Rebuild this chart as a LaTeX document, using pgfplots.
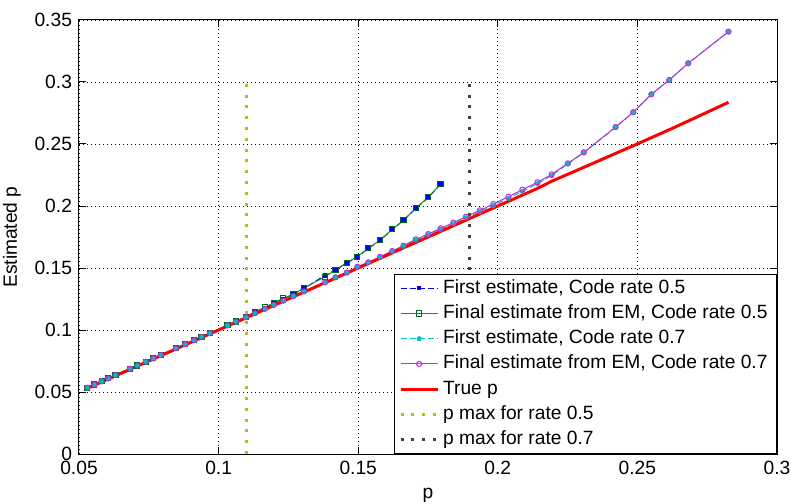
\documentclass[border=0pt]{standalone}
\usepackage{fontspec}
\setmainfont{Liberation Sans}
\usepackage{pgfplots}
\pgfplotsset{compat=1.18}
\definecolor{mblue}{rgb}{0,0,1}
\definecolor{mgreen}{rgb}{0.1,0.55,0.15}
\definecolor{mgreendark}{rgb}{0,0.4,0.15}
\definecolor{mcyan}{rgb}{0,0.75,0.75}
\definecolor{mmag}{rgb}{0.72,0.2,0.82}
\definecolor{myel}{rgb}{0.75,0.75,0}
\definecolor{mgray}{rgb}{0.25,0.25,0.25}
\begin{document}
\begin{tikzpicture}
\begin{axis}[
  scale only axis, width=349pt, height=217pt,
  xmin=0.05, xmax=0.3, ymin=0, ymax=0.35,
  xtick={0.05,0.1,0.15,0.2,0.25,0.3},
  xticklabels={0.05,0.1,0.15,0.2,0.25,0.3},
  ytick={0,0.05,0.1,0.15,0.2,0.25,0.3,0.35},
  yticklabels={0,0.05,0.1,0.15,0.2,0.25,0.3,0.35},
  scaled ticks=false,
  tick align=inside, tick pos=both, major tick length=3.5pt,
  grid=major,
  major grid style={black, line width=0.4pt, dash pattern=on 0.5pt off 1.5pt},
  axis line style={black, line width=0.5pt},
  tick style={black, line width=0.5pt},
  tick label style={font=\fontsize{9.6}{11}\selectfont},
  label style={font=\fontsize{9.6}{11}\selectfont},
  xlabel={p}, ylabel={Estimated p},
  legend style={at={(1,0)}, anchor=south east, draw=black, line width=0.5pt, fill=white,
    font=\fontsize{9.6}{11}\selectfont, inner xsep=2.5pt, inner ysep=1pt, row sep=0.6pt,
    nodes={inner xsep=2pt, inner ysep=1.5pt, text height=7pt, text depth=2pt}},
  legend cell align=left,
  legend image code/.code={\draw[mark repeat=2,mark phase=2,#1] plot coordinates {(0pt,0pt) (9.25pt,0pt) (18.5pt,0pt)};},
]
% First estimate, rate 0.5
\addplot[color=mblue, line width=0.5pt, dash pattern=on 3pt off 1.5pt, mark=square*, mark size=0.8pt, mark options={solid, fill=mblue}] coordinates {
(0.0530,0.0537) (0.0555,0.0561) (0.0581,0.0587) (0.0605,0.0612) (0.0631,0.0637) (0.0683,0.0689) (0.0709,0.0715) (0.0739,0.0745) (0.0766,0.0772) (0.0793,0.0799) (0.0847,0.0853) (0.0880,0.0886) (0.0912,0.0918) (0.0939,0.0945) (0.0969,0.0975) (0.1032,0.1039) (0.1062,0.1069) (0.1098,0.1107) (0.1130,0.1146) (0.1166,0.1180) (0.1198,0.1217) (0.1232,0.1252) (0.1268,0.1288) (0.1306,0.1336) (0.1381,0.1440) (0.1419,0.1484) (0.1459,0.1540) (0.1497,0.1590) (0.1536,0.1657) (0.1578,0.1722) (0.1622,0.1810) (0.1662,0.1884) (0.1706,0.1980) (0.1751,0.2069) (0.1795,0.2176)};
\addlegendentry{First estimate, Code rate 0.5}
% Final estimate, rate 0.5
\addplot[color=mgreen, line width=0.5pt, mark=square, mark size=1.3pt, mark options={solid, draw=mgreendark}] coordinates {
(0.0530,0.0535) (0.0555,0.0560) (0.0581,0.0586) (0.0605,0.0610) (0.0631,0.0636) (0.0683,0.0688) (0.0709,0.0714) (0.0739,0.0744) (0.0766,0.0771) (0.0793,0.0798) (0.0847,0.0852) (0.0880,0.0885) (0.0912,0.0917) (0.0939,0.0944) (0.0969,0.0974) (0.1032,0.1038) (0.1062,0.1068) (0.1098,0.1106) (0.1130,0.1148) (0.1166,0.1183) (0.1198,0.1220) (0.1232,0.1255) (0.1268,0.1290) (0.1306,0.1338) (0.1381,0.1430) (0.1419,0.1484) (0.1459,0.1543) (0.1497,0.1591) (0.1536,0.1659) (0.1578,0.1723) (0.1622,0.1812) (0.1662,0.1885) (0.1706,0.1981) (0.1751,0.2070) (0.1795,0.2177)};
\addlegendentry{Final estimate from EM, Code rate 0.5}
% First estimate, rate 0.7
\addplot[color=mcyan, line width=0.5pt, dash pattern=on 3pt off 1.5pt, mark=*, mark size=1pt, mark options={solid, fill=mcyan}] coordinates {
(0.0530,0.0534) (0.0555,0.0559) (0.0581,0.0585) (0.0605,0.0609) (0.0631,0.0635) (0.0683,0.0687) (0.0709,0.0713) (0.0739,0.0743) (0.0766,0.0770) (0.0793,0.0797) (0.0847,0.0851) (0.0880,0.0884) (0.0912,0.0916) (0.0939,0.0943) (0.0969,0.0973) (0.1032,0.1036) (0.1062,0.1066) (0.1098,0.1102) (0.1130,0.1134) (0.1166,0.1170) (0.1198,0.1202) (0.1232,0.1236) (0.1268,0.1272) (0.1306,0.1310) (0.1381,0.1384) (0.1419,0.1423) (0.1459,0.1461) (0.1497,0.1507) (0.1536,0.1543) (0.1578,0.1587) (0.1622,0.1633) (0.1662,0.1675) (0.1706,0.1725) (0.1751,0.1768) (0.1795,0.1813) (0.1841,0.1857) (0.1886,0.1905) (0.1936,0.1955) (0.1984,0.2005) (0.2038,0.2062) (0.2088,0.2118) (0.2142,0.2180) (0.2193,0.2245) (0.2251,0.2340) (0.2308,0.2430) (0.2422,0.2635) (0.2485,0.2755) (0.2550,0.2900) (0.2614,0.3015) (0.2682,0.3150) (0.2826,0.3405)};
\addlegendentry{First estimate, Code rate 0.7}
% Final estimate, rate 0.7
\addplot[color=mmag, line width=0.5pt, mark=o, mark size=1.3pt, mark options={solid}] coordinates {
(0.0530,0.0535) (0.0555,0.0560) (0.0581,0.0586) (0.0605,0.0610) (0.0631,0.0636) (0.0683,0.0688) (0.0709,0.0714) (0.0739,0.0744) (0.0766,0.0771) (0.0793,0.0798) (0.0847,0.0852) (0.0880,0.0885) (0.0912,0.0917) (0.0939,0.0944) (0.0969,0.0974) (0.1032,0.1037) (0.1062,0.1067) (0.1098,0.1103) (0.1130,0.1135) (0.1166,0.1171) (0.1198,0.1203) (0.1232,0.1237) (0.1268,0.1273) (0.1306,0.1311) (0.1381,0.1385) (0.1419,0.1425) (0.1459,0.1463) (0.1497,0.1510) (0.1536,0.1546) (0.1578,0.1590) (0.1622,0.1637) (0.1662,0.1680) (0.1706,0.1731) (0.1751,0.1774) (0.1795,0.1820) (0.1841,0.1865) (0.1886,0.1914) (0.1936,0.1965) (0.1984,0.2016) (0.2038,0.2075) (0.2088,0.2132) (0.2142,0.2191) (0.2193,0.2255) (0.2251,0.2344) (0.2308,0.2433) (0.2422,0.2637) (0.2485,0.2756) (0.2550,0.2901) (0.2614,0.3016) (0.2682,0.3151) (0.2826,0.3406)};
\addlegendentry{Final estimate from EM, Code rate 0.7}
% True p
\addplot[color=red, line width=1.5pt, mark=none] coordinates {
(0.0530,0.0530) (0.0555,0.0555) (0.0581,0.0581) (0.0605,0.0605) (0.0631,0.0631) (0.0683,0.0683) (0.0709,0.0709) (0.0739,0.0739) (0.0766,0.0766) (0.0793,0.0793) (0.0847,0.0847) (0.0880,0.0880) (0.0912,0.0912) (0.0939,0.0939) (0.0969,0.0969) (0.1032,0.1032) (0.1062,0.1062) (0.1098,0.1098) (0.1130,0.1130) (0.1166,0.1166) (0.1198,0.1198) (0.1232,0.1232) (0.1268,0.1268) (0.1306,0.1306) (0.1381,0.1381) (0.1419,0.1419) (0.1459,0.1459) (0.1497,0.1497) (0.1536,0.1536) (0.1578,0.1578) (0.1622,0.1622) (0.1662,0.1662) (0.1706,0.1706) (0.1751,0.1751) (0.1795,0.1795) (0.1841,0.1841) (0.1886,0.1886) (0.1936,0.1936) (0.1984,0.1984) (0.2038,0.2038) (0.2088,0.2088) (0.2142,0.2142) (0.2193,0.2200) (0.2251,0.2256) (0.2308,0.2312) (0.2422,0.2424) (0.2485,0.2486) (0.2550,0.2551) (0.2614,0.2615) (0.2682,0.2685) (0.2826,0.2836)};
\addlegendentry{True p}
\addplot[color=myel, line width=1.5pt, dash pattern=on 1.5pt off 3.9pt, mark=none] coordinates {(0.11,0) (0.11,0.3)};
\addlegendentry{p max for rate 0.5}
\addplot[color=mgray, line width=1.5pt, dash pattern=on 1.5pt off 3.9pt, mark=none] coordinates {(0.19,0) (0.19,0.3)};
\addlegendentry{p max for rate 0.7}
\end{axis}
\pgfresetboundingbox
\path[use as bounding box] (-39.5pt,-24.5pt) rectangle (356pt,227pt);
\end{tikzpicture}
\end{document}
